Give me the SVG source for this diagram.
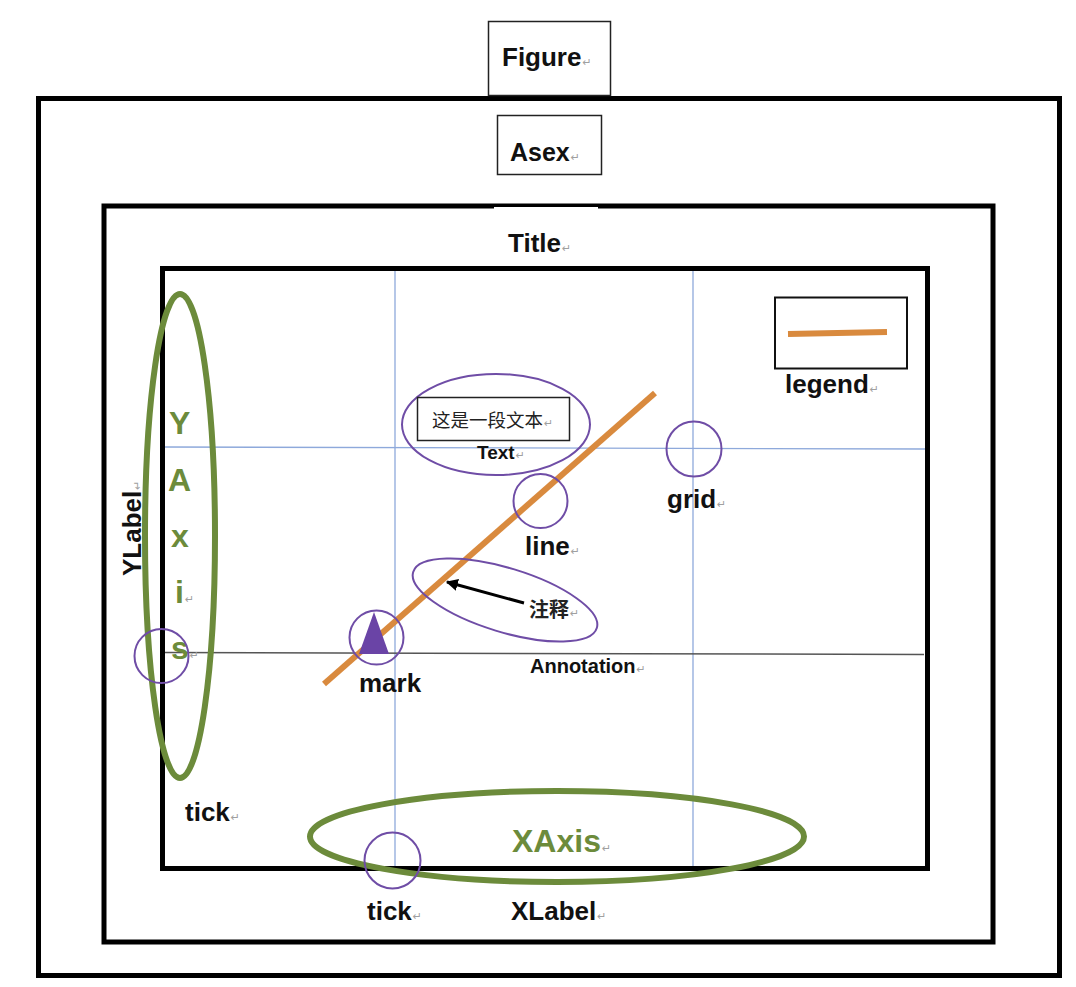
<svg xmlns="http://www.w3.org/2000/svg" width="1076" height="987" viewBox="0 0 1076 987">
<style>
.lbl{font-family:"Liberation Sans",Arial,sans-serif;font-weight:bold;fill:#111}
.grn{font-family:"Liberation Sans",Arial,sans-serif;font-weight:bold;fill:#6c8b3b}
.cjk{font-family:"Liberation Sans","Noto Sans CJK SC",sans-serif;fill:#222}
.pm{font-family:"DejaVu Sans",sans-serif;font-size:11px;font-weight:normal;fill:#a0a0a0}
.frame{fill:none;stroke:#000;stroke-width:5}
.box{fill:#fff;stroke:#222;stroke-width:1.5}
.grid{stroke:#8ea9db;stroke-width:1.3;fill:none}
.pur{fill:none;stroke:#6f4da6;stroke-width:2}
.gell{fill:none;stroke:#6c8b3b;stroke-width:6}
.orange{stroke:#d98a3e;stroke-width:6;stroke-linecap:butt;fill:none}
</style>
<defs>
<marker id="ah" viewBox="0 0 10 10" refX="9" refY="5" markerWidth="4" markerHeight="4" orient="auto-start-reverse" markerUnits="strokeWidth">
<path d="M0,0 L10,5 L0,10 z" fill="#000"/>
</marker>
</defs>
<rect width="1076" height="987" fill="#fff"/>

<g id="figure">
<rect class="frame" x="38.5" y="98.5" width="1021" height="877"/>
<rect class="box" x="488.5" y="21.5" width="122" height="74"/>
<text class="lbl" x="502" y="66" font-size="26">Figure<tspan class="pm" dx="1">↵</tspan></text>
</g>

<g id="axes">
<rect class="frame" x="104" y="206" width="889" height="736"/>
<line x1="494" y1="208" x2="598" y2="208" stroke="#fff" stroke-width="2"/>
<rect class="box" x="497.5" y="115.5" width="104" height="59"/>
<text class="lbl" x="510" y="161" font-size="25">Asex<tspan class="pm" dx="1">↵</tspan></text>
</g>

<g id="title">
<text class="lbl" x="508" y="252" font-size="26">Title<tspan class="pm" dx="1">↵</tspan></text>
</g>

<g id="plot-area">
<rect fill="#fff" x="162.5" y="268.5" width="765" height="600"/>
<line class="grid" x1="395" y1="268" x2="395" y2="868"/>
<line class="grid" x1="693" y1="268" x2="693" y2="868"/>
<line class="grid" x1="163" y1="447" x2="927" y2="449"/>
<line x1="163" y1="652.5" x2="924" y2="654.5" stroke="#555" stroke-width="1.5"/>
<rect class="frame" x="162.5" y="268.5" width="765" height="600"/>
</g>

<g id="line">
<line class="orange" x1="324" y1="684" x2="655" y2="393"/>
<circle class="pur" cx="540.5" cy="501" r="27"/>
<text class="lbl" x="525" y="555" font-size="26">line<tspan class="pm" dx="1">↵</tspan></text>
</g>

<g id="legend">
<rect x="775" y="297.5" width="132" height="71" fill="none" stroke="#111" stroke-width="2"/>
<line class="orange" x1="788" y1="334" x2="887" y2="332"/>
<text class="lbl" x="785" y="393" font-size="26">legend<tspan class="pm" dx="1">↵</tspan></text>
</g>

<g id="text">
<ellipse class="pur" cx="496" cy="424.5" rx="94" ry="50.5"/>
<rect class="box" x="417.5" y="397.5" width="152" height="43"/>
<text class="cjk" x="432" y="427" font-size="18.5">这是一段文本<tspan class="pm" dx="1">↵</tspan></text>
<text class="lbl" x="477" y="459" font-size="19">Text<tspan class="pm" dx="1">↵</tspan></text>
</g>

<g id="grid">
<circle class="pur" cx="694" cy="449" r="27.5"/>
<text class="lbl" x="667" y="508" font-size="26">grid<tspan class="pm" dx="1">↵</tspan></text>
</g>

<g id="annotation">
<ellipse class="pur" cx="505" cy="600" rx="96" ry="32" transform="rotate(17 505 600)"/>
<text class="cjk" x="529" y="617" font-size="20" font-weight="bold">注释<tspan class="pm" dx="1">↵</tspan></text>
<text class="lbl" x="530" y="673" font-size="20">Annotation<tspan class="pm" dx="1">↵</tspan></text>
</g>

<g id="mark">
<circle class="pur" cx="376.5" cy="637.5" r="27"/>
<polygon points="374,612 359,654 389,654" fill="#6a44a6"/>
<text class="lbl" x="359" y="692" font-size="26">mark</text>
</g>

<g id="yaxis">
<ellipse class="gell" cx="180" cy="536" rx="35" ry="242"/>
<text class="grn" x="169" y="434" font-size="32">Y</text>
<text class="grn" x="168" y="491" font-size="32">A</text>
<text class="grn" x="171" y="547" font-size="32">x</text>
<text class="grn" x="175" y="603" font-size="32">i<tspan class="pm" dx="1">↵</tspan></text>
<text class="grn" x="171" y="659" font-size="32">s<tspan class="pm" dx="1">↵</tspan></text>
<circle class="pur" cx="161.5" cy="656" r="27"/>
</g>

<g id="ylabel">
<text class="lbl" font-size="26" transform="translate(141 576) rotate(-90)">YLabel<tspan class="pm" dx="1">↵</tspan></text>
</g>

<g id="ytick">
<text class="lbl" x="185" y="821" font-size="26">tick<tspan class="pm" dx="1">↵</tspan></text>
</g>

<g id="xaxis">
<ellipse class="gell" cx="557" cy="836.5" rx="247" ry="45.5"/>
<text class="grn" x="512" y="852" font-size="32">XAxis<tspan class="pm" dx="1">↵</tspan></text>
</g>

<g id="xtick">
<circle class="pur" cx="392.5" cy="860.5" r="28"/>
<text class="lbl" x="367" y="920" font-size="26">tick<tspan class="pm" dx="1">↵</tspan></text>
</g>

<g id="xlabel">
<text class="lbl" x="511" y="920" font-size="26">XLabel<tspan class="pm" dx="1">↵</tspan></text>
</g>

<g id="connectors">
<line x1="524" y1="603" x2="447" y2="582" stroke="#000" stroke-width="3" marker-end="url(#ah)"/>
</g>
</svg>
